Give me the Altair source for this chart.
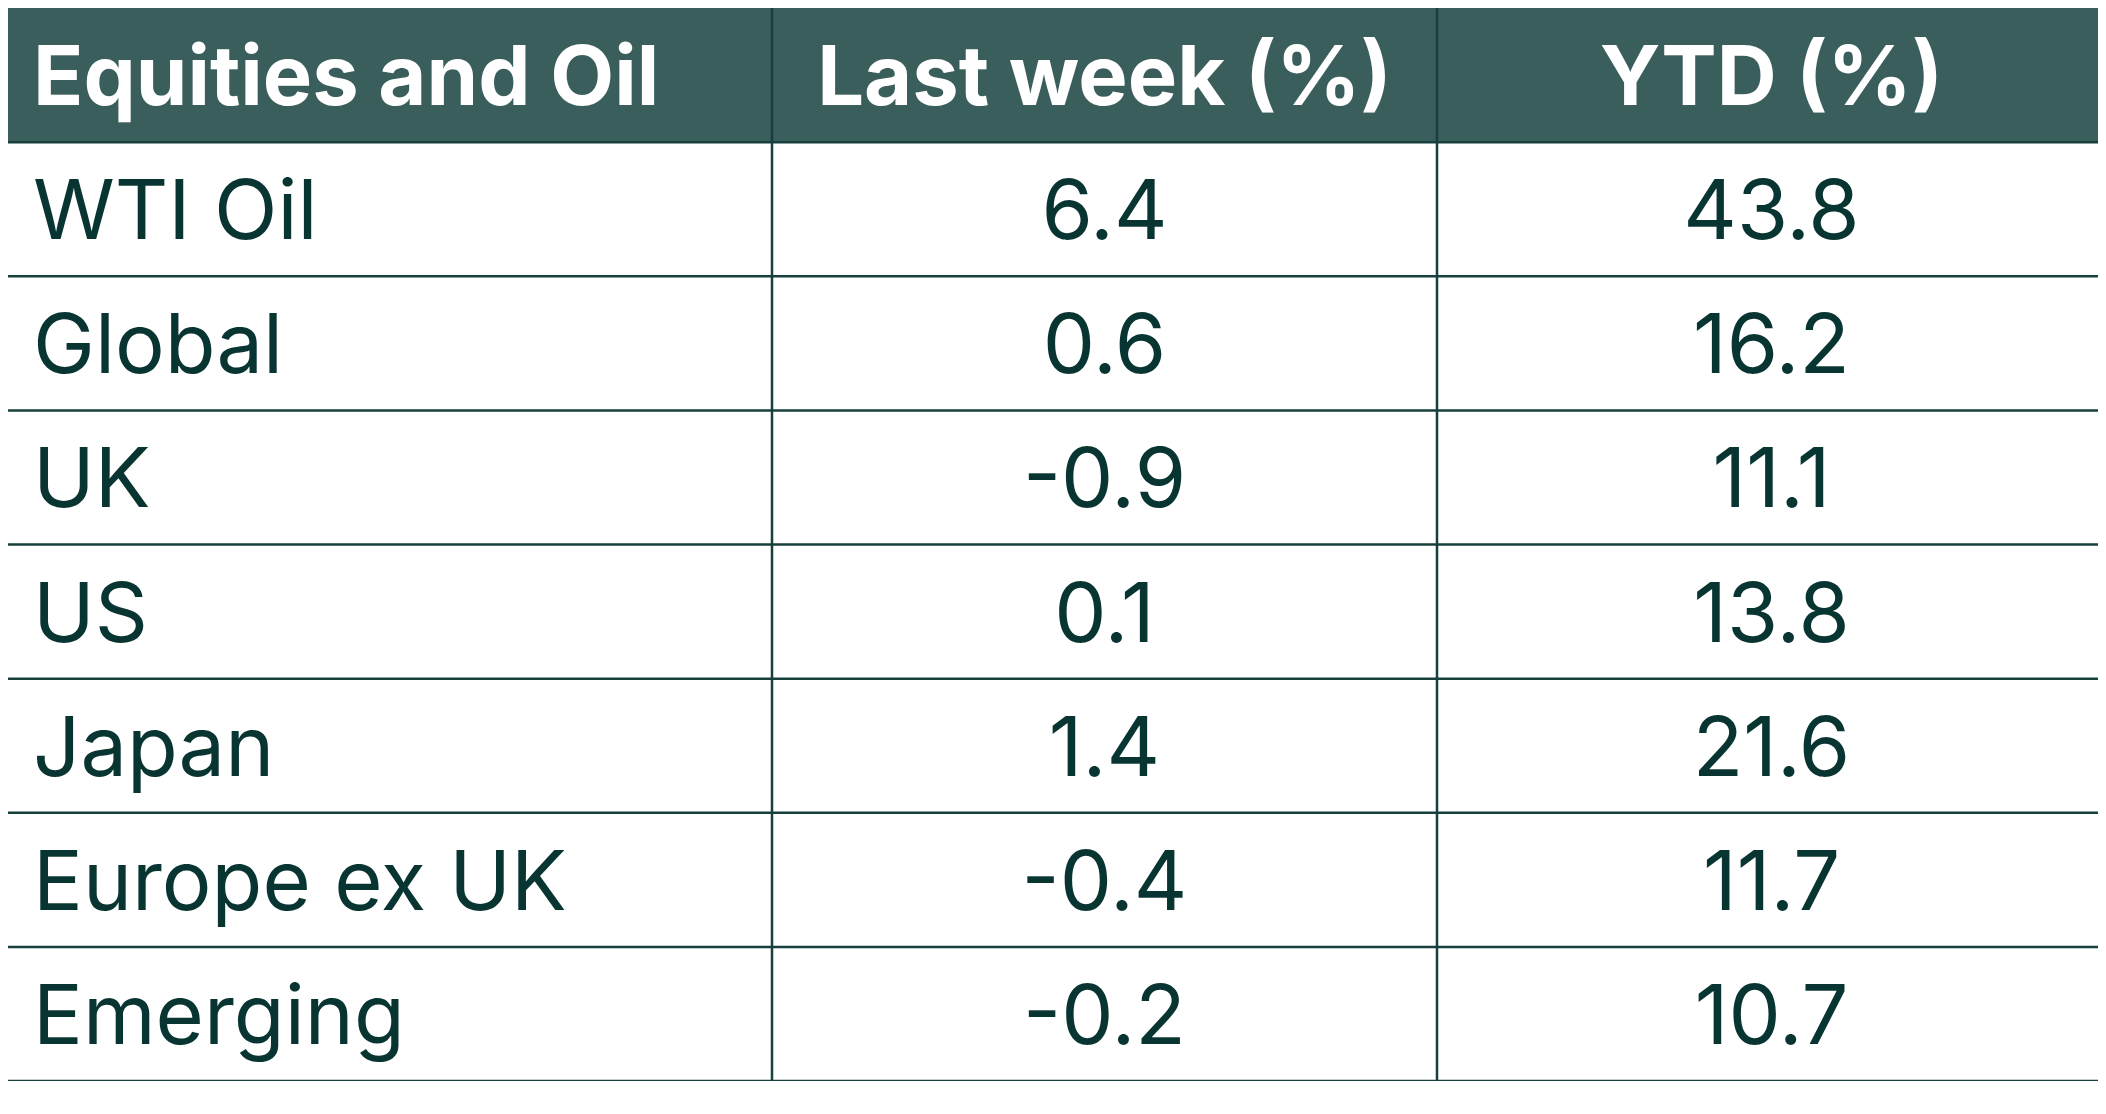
import altair as alt
import pandas as pd

# ---- data ----
headers = ["Equities and Oil", "Last week (%)", "YTD (%)"]
categories = ["WTI Oil", "Global", "UK", "US", "Japan", "Europe ex UK", "Emerging"]
last_week = [6.4, 0.6, -0.9, 0.1, 1.4, -0.4, -0.2]
ytd = [43.8, 16.2, 11.1, 13.8, 21.6, 11.7, 10.7]

# ---- layout / style ----
W = 2090            # chart width (px) so that page width stays 2106
H = 1073            # chart height (px)
col_edges = [0, 764, 1429, 2098]   # nominal column edges (last one at window edge)
left_pad = 25
n_rows = len(categories) + 1
FONT = "Inter"
FS = 83
DY = 30
HEADER_FILL = "#3a5e5b"
LINE = "#173f3c"
TEXT = "#083431"

cells = []
for c, h in enumerate(headers):
    cells.append({"r": 0, "c": c, "label": h})
for i, cat in enumerate(categories):
    r = i + 1
    cells.append({"r": r, "c": 0, "label": cat})
    cells.append({"r": r, "c": 1, "label": f"{last_week[i]:.1f}"})
    cells.append({"r": r, "c": 2, "label": f"{ytd[i]:.1f}"})
df = pd.DataFrame(cells)
df["ymid"] = df["r"] + 0.5
df["xl"] = [col_edges[c] + left_pad for c in df["c"]]
df["xc"] = [(col_edges[c] + col_edges[c + 1]) / 2 for c in df["c"]]

rows_df = pd.DataFrame({"r": list(range(n_rows))})
rows_df["r1"] = rows_df["r"] + 1
vlines = pd.DataFrame({"x": col_edges[1:-1]})

xs = alt.Scale(domain=[0, W], range=[0, W])
ys = alt.Scale(domain=[0, n_rows], range=[0, H])

header_bg = alt.Chart(pd.DataFrame({"r": [0], "r1": [1]})).mark_rect(
    fill=HEADER_FILL
).encode(
    x=alt.value(0), x2=alt.value(W),
    y=alt.Y("r:Q", scale=ys, axis=None), y2="r1:Q",
)

hrules = alt.Chart(rows_df).mark_rule(color=LINE, strokeWidth=2.5).encode(
    x=alt.value(0), x2=alt.value(W),
    y=alt.Y("r1:Q", scale=ys, axis=None),
)

vrules = alt.Chart(vlines).mark_rule(color=LINE, strokeWidth=2.5).encode(
    x=alt.X("x:Q", scale=xs, axis=None),
    y=alt.value(0), y2=alt.value(H),
)

base = alt.Chart(df)
head_left = base.transform_filter("datum.r == 0 && datum.c == 0").mark_text(
    font=FONT, fontSize=FS, fontWeight="bold", color="white",
    align="left", baseline="alphabetic", dy=DY,
).encode(x=alt.X("xl:Q", scale=xs, axis=None), y=alt.Y("ymid:Q", scale=ys, axis=None), text="label:N")

head_ctr = base.transform_filter("datum.r == 0 && datum.c > 0").mark_text(
    font=FONT, fontSize=FS, fontWeight="bold", color="white",
    align="center", baseline="alphabetic", dy=DY,
).encode(x=alt.X("xc:Q", scale=xs, axis=None), y=alt.Y("ymid:Q", scale=ys, axis=None), text="label:N")

body_left = base.transform_filter("datum.r > 0 && datum.c == 0").mark_text(
    font=FONT, fontSize=FS, fontWeight="normal", color=TEXT,
    align="left", baseline="alphabetic", dy=DY,
).encode(x=alt.X("xl:Q", scale=xs, axis=None), y=alt.Y("ymid:Q", scale=ys, axis=None), text="label:N")

body_ctr = base.transform_filter("datum.r > 0 && datum.c > 0").mark_text(
    font=FONT, fontSize=FS, fontWeight="normal", color=TEXT,
    align="center", baseline="alphabetic", dy=DY,
).encode(x=alt.X("xc:Q", scale=xs, axis=None), y=alt.Y("ymid:Q", scale=ys, axis=None), text="label:N")

chart = alt.layer(
    header_bg, hrules, vrules, head_left, head_ctr, body_left, body_ctr
).properties(
    width=W, height=H, padding=0,
    autosize=alt.AutoSizeParams(type="none"),
    background="white",
).configure_view(strokeWidth=0)

chart.save("out.html", embed_options={"renderer": "svg", "actions": False})
